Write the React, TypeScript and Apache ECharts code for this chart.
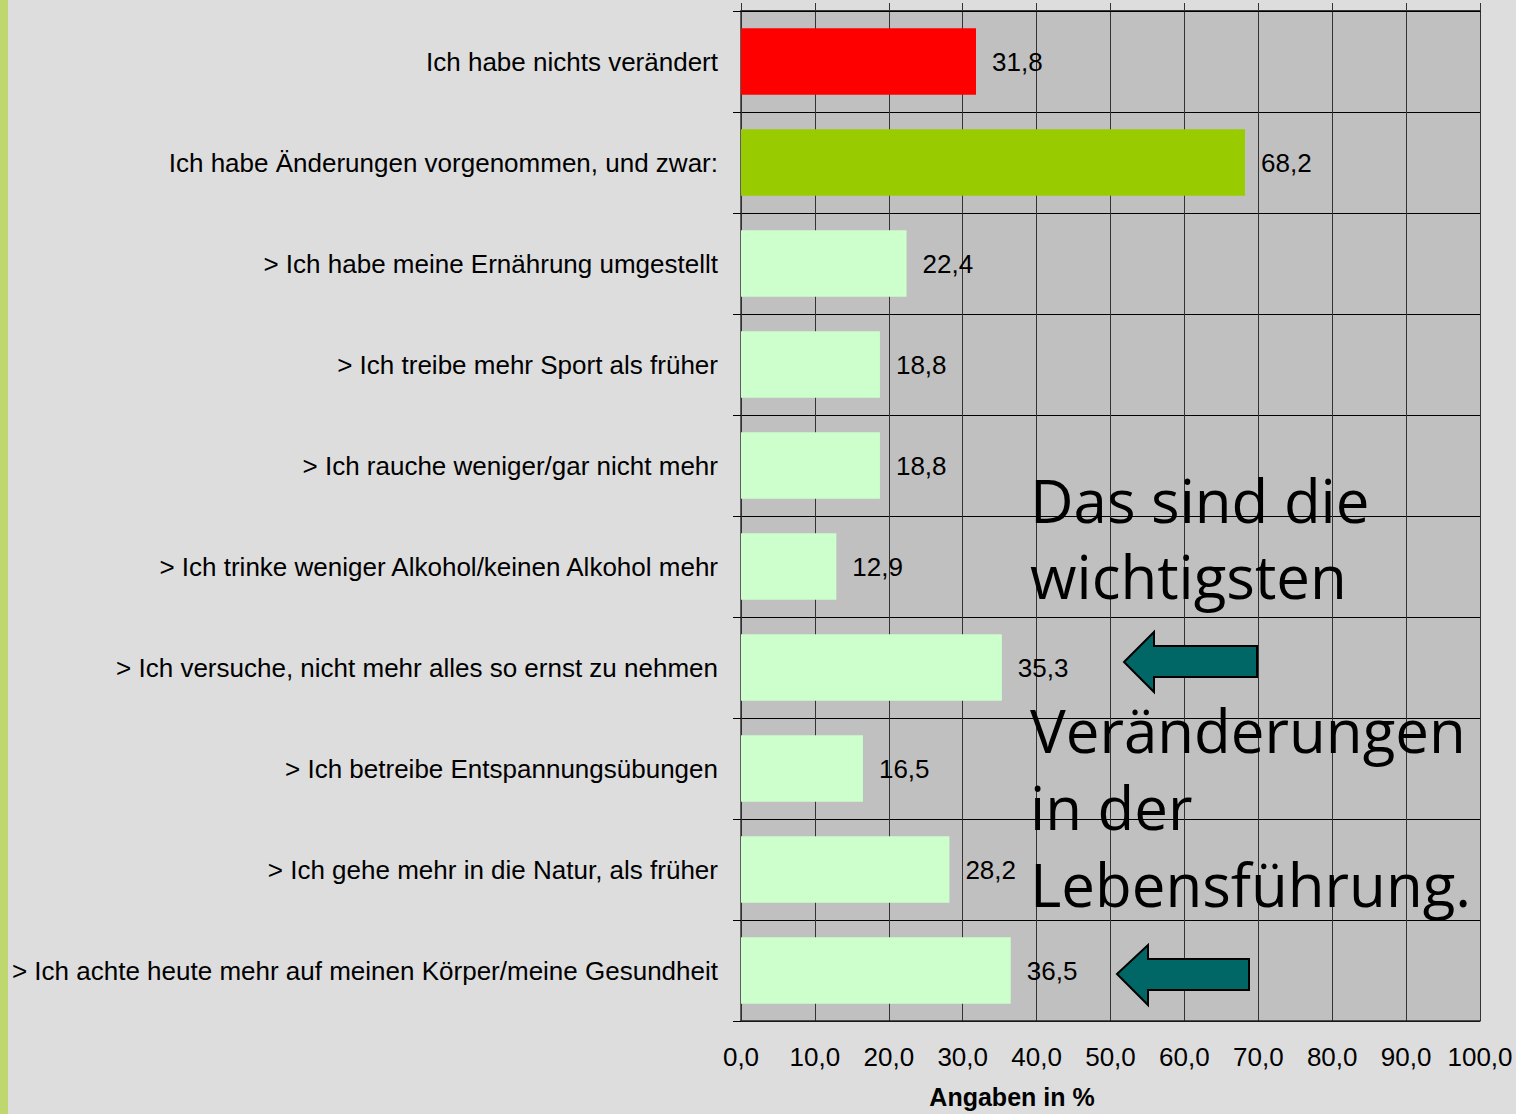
import React, { useEffect, useRef } from "react";
import * as echarts from "echarts";

const categories = [
  "Ich habe nichts verändert",
  "Ich habe Änderungen vorgenommen, und zwar:",
  "> Ich habe meine Ernährung umgestellt",
  "> Ich treibe mehr Sport als früher",
  "> Ich rauche weniger/gar nicht mehr",
  "> Ich trinke weniger Alkohol/keinen Alkohol mehr",
  "> Ich versuche, nicht mehr alles so ernst zu nehmen",
  "> Ich betreibe Entspannungsübungen",
  "> Ich gehe mehr in die Natur, als früher",
  "> Ich achte heute mehr auf meinen Körper/meine Gesundheit",
];
const values = [31.8, 68.2, 22.4, 18.8, 18.8, 12.9, 35.3, 16.5, 28.2, 36.5];
const barColors = [
  "#FF0000",
  "#99CC00",
  "#CCFFCC",
  "#CCFFCC",
  "#CCFFCC",
  "#CCFFCC",
  "#CCFFCC",
  "#CCFFCC",
  "#CCFFCC",
  "#CCFFCC",
];
const axisTitle = "Angaben in %";
const noteLines = ["Das sind die", "wichtigsten", "Veränderungen", "in der", "Lebensführung."];

const FONT = "'Liberation Sans', Arial, sans-serif";
const fmt = (v: number) => v.toFixed(1).replace(".", ",");

export default function App() {
  const ref = useRef<HTMLDivElement>(null);
  useEffect(() => {
    document.body.style.margin = "0";
    const chart = echarts.init(ref.current!, undefined, { renderer: "svg" });
    const noteY = [500, 576, 730, 807, 884];
    const arrow = (pts: number[][]) => ({
      type: "polygon",
      z: 100,
      shape: { points: pts },
      style: { fill: "#006666", stroke: "#000000", lineWidth: 2 },
    });
    chart.setOption({
      animation: false,
      backgroundColor: "#DDDDDD",
      grid: { left: 741, right: 36, top: 11, bottom: 93, containLabel: false, show: true, backgroundColor: "#C0C0C0", borderWidth: 0 },
      xAxis: [
        {
          type: "value",
          min: 0,
          max: 100,
          interval: 10,
          position: "bottom",
          axisLine: { show: true, lineStyle: { color: "#222", width: 1.5 } },
          axisTick: { show: false },
          splitLine: { show: true, lineStyle: { color: "#333", width: 1 } },
          axisLabel: {
            margin: 23,
            fontSize: 26,
            fontFamily: FONT,
            color: "#000",
            formatter: (v: number) => fmt(v),
          },
        },
        {
          type: "value",
          min: 0,
          max: 100,
          interval: 10,
          position: "top",
          axisLine: { show: true, lineStyle: { color: "#000", width: 1.5 } },
          axisTick: { show: true, length: 8, lineStyle: { color: "#333" } },
          splitLine: { show: false },
          axisLabel: { show: false },
        },
      ],
      yAxis: {
        type: "category",
        inverse: true,
        data: categories,
        axisLine: { show: true, lineStyle: { color: "#333", width: 1.5 } },
        axisTick: { show: true, length: 8, alignWithLabel: false, lineStyle: { color: "#000" } },
        splitLine: { show: true, lineStyle: { color: "#000", width: 1 } },
        axisLabel: { margin: 23, fontSize: 26, fontFamily: FONT, color: "#000" },
      },
      series: [
        {
          type: "bar",
          xAxisIndex: 0,
          data: values.map((v, i) => ({ value: v, itemStyle: { color: barColors[i] } })),
          barWidth: "66%",
          label: {
            show: true,
            position: "right",
            distance: 16,
            fontSize: 26,
            fontFamily: FONT,
            color: "#000",
            formatter: (p: any) => fmt(p.value),
          },
        },
      ],
      graphic: [
        { type: "rect", left: 0, top: 0, shape: { width: 8, height: 1114 }, style: { fill: "#BED86F" }, z: 50 },
        {
          type: "text",
          x: 1012,
          y: 1097,
          style: { text: axisTitle, font: `bold 25px ${FONT}`, fill: "#000", align: "center", verticalAlign: "middle" },
        },
        ...noteLines.map((t, i) => ({
          type: "text",
          z: 100,
          x: 1030,
          y: noteY[i],
          style: { text: t, font: "60px 'Open Sans', sans-serif", fill: "#000", align: "left", verticalAlign: "middle" },
        })),
        arrow([
          [1124, 662],
          [1154, 632],
          [1154, 646],
          [1257, 646],
          [1257, 677],
          [1154, 677],
          [1154, 692],
        ]),
        arrow([
          [1117, 974],
          [1148, 945],
          [1148, 959],
          [1249, 959],
          [1249, 990],
          [1148, 990],
          [1148, 1005],
        ]),
      ],
    });
    return () => chart.dispose();
  }, []);
  return <div ref={ref} style={{ width: 1516, height: 1114 }} />;
}
